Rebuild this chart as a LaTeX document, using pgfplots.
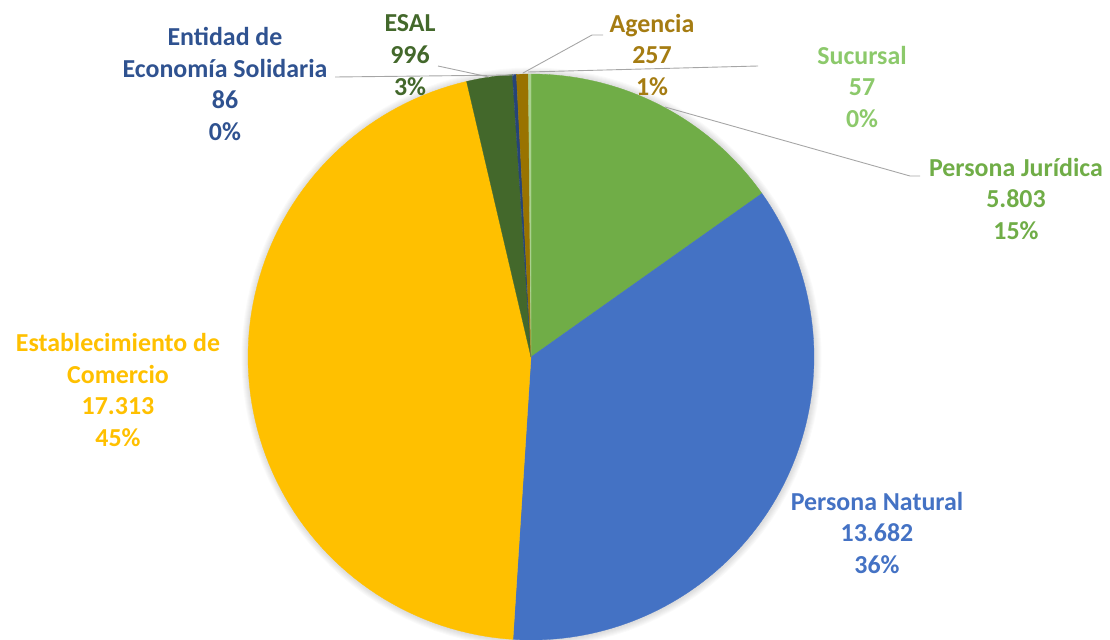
\documentclass[border=0pt]{standalone}
\usepackage{pgfplots}
\pgfplotsset{compat=1.18}
\usepackage{fontspec}
\setmainfont{Carlito}
\definecolor{cPJ}{HTML}{70AD47}
\definecolor{cPN}{HTML}{4472C4}
\definecolor{cEC}{HTML}{FFC000}
\definecolor{cESAL}{HTML}{43682B}
\definecolor{cEnt}{HTML}{264478}
\definecolor{cAg}{HTML}{997300}
\definecolor{cSuc}{HTML}{A9D18E}
\definecolor{tEnt}{HTML}{2F5290}
\definecolor{tAg}{HTML}{A57C12}
\definecolor{tSuc}{HTML}{8CC96B}
\definecolor{lead}{HTML}{A6A6A6}
\newcommand{\total}{38194}
\newcommand{\cx}{531}
\newcommand{\cy}{283}
\newcommand{\R}{283}
\tikzset{lbl/.style={font=\fontsize{26}{32}\selectfont\bfseries, align=center, inner sep=0pt}}
% #1 cumulative start value, #2 value, #3 colour
\newcommand{\slice}[3]{%
  \edef\angA{\fpeval{#1/\total*360}}%
  \edef\angB{\fpeval{(#1+#2)/\total*360}}%
  \edef\doslice{\noexpand\addplot[draw=#3, line width=0.3pt, fill=#3, domain=\angA:\angB, samples=90]
    ({\cx+\R*sin(x)},{\cy+\R*cos(x)}) -- (axis cs:\cx,\cy) -- cycle;}%
  \doslice
}
\begin{document}
\begin{tikzpicture}
\begin{axis}[
  at={(0,0)}, anchor=south west,
  width=1110bp, height=640bp, scale only axis,
  xmin=0, xmax=1110, ymin=0, ymax=640,
  hide axis, clip=false,
]
% soft shadow
\pgfplotsinvokeforeach{1,...,7}{
  \addplot[draw=none, fill=black, fill opacity=0.02, domain=0:360, samples=120]
    ({531.5+(283+#1)*sin(x)},{282.5+(283+#1)*cos(x)}) -- cycle;
}
\slice{0}{5803}{cPJ}
\slice{5803}{13682}{cPN}
\slice{19485}{17313}{cEC}
\slice{36798}{996}{cESAL}
\slice{37794}{86}{cEnt}
\slice{37880}{257}{cAg}
\slice{38137}{57}{cSuc}
% leader lines
\draw[lead, line width=0.9pt] (axis cs:335,563) -- (axis cs:514,565);
\draw[lead, line width=0.9pt] (axis cs:438,574) -- (axis cs:489,563);
\draw[lead, line width=0.9pt] (axis cs:603,605) -- (axis cs:592,605) -- (axis cs:523,567);
\draw[lead, line width=0.9pt] (axis cs:758,574) -- (axis cs:528,568);
\draw[lead, line width=0.9pt] (axis cs:920,464) -- (axis cs:910,464) -- (axis cs:665,533);
% labels
\node[lbl, text=tEnt] at (axis cs:225,556) {Entidad de\\Economía Solidaria\\86\\0\%};
\node[lbl, text=cESAL] at (axis cs:410,585) {ESAL\\996\\3\%};
\node[lbl, text=tAg] at (axis cs:652,585) {Agencia\\257\\1\%};
\node[lbl, text=tSuc] at (axis cs:862,553) {Sucursal\\57\\0\%};
\node[lbl, text=cPJ] at (axis cs:1016,441) {Persona Jurídica\\5.803\\15\%};
\node[lbl, text=cEC] at (axis cs:118,250) {Establecimiento de\\Comercio\\17.313\\45\%};
\node[lbl, text=cPN] at (axis cs:877,107) {Persona Natural\\13.682\\36\%};
\end{axis}
\pgfresetboundingbox
\path[use as bounding box] (0,0) rectangle (1110bp,640bp);
\end{tikzpicture}
\end{document}
